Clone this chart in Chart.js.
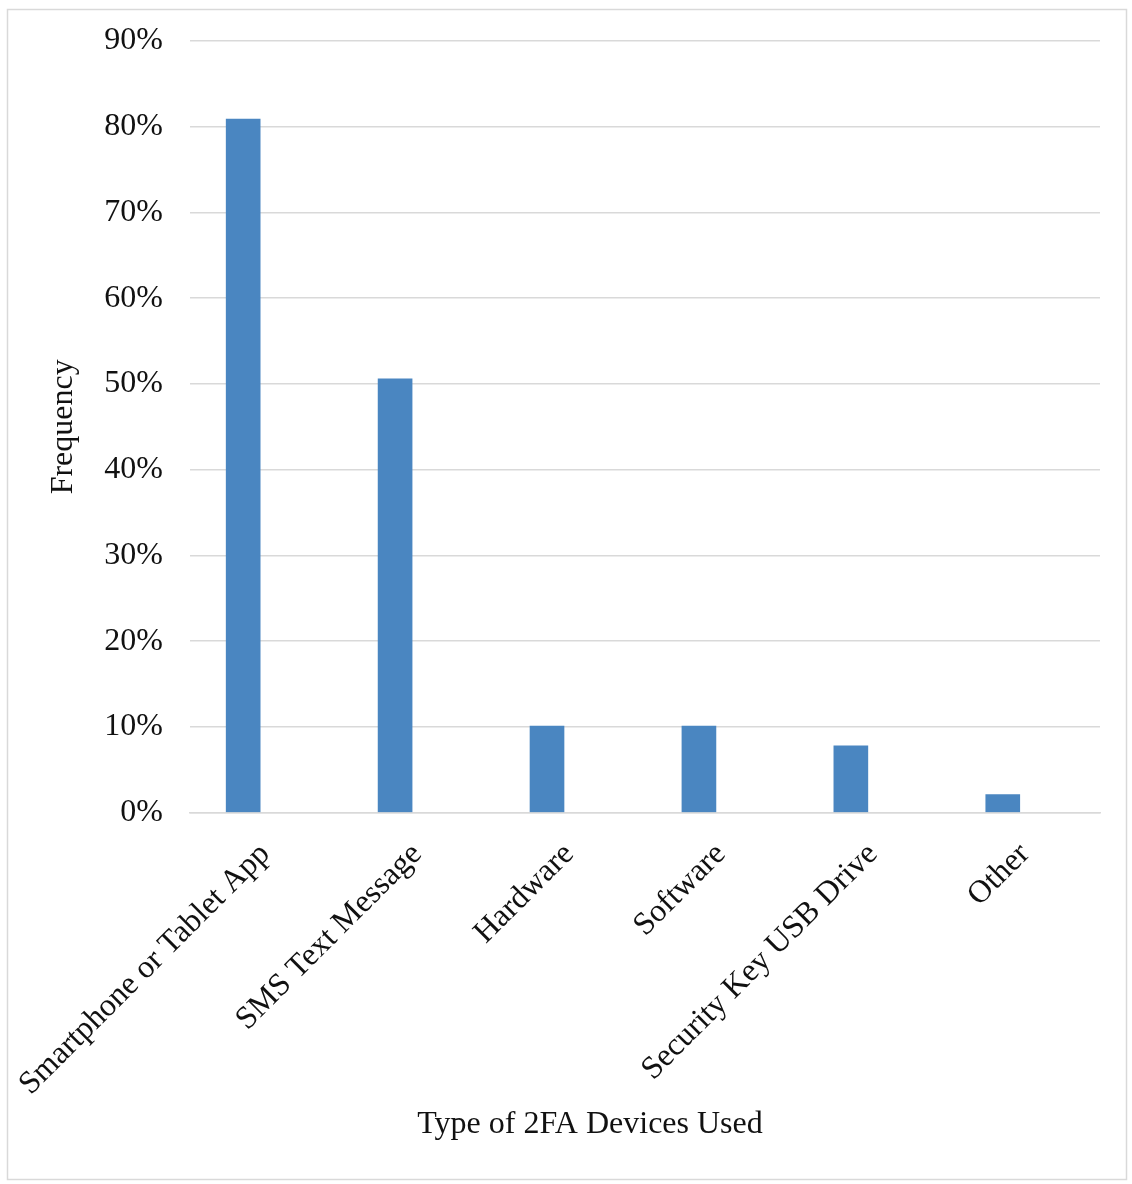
<!DOCTYPE html>
<html>
<head>
<meta charset="utf-8">
<script src="https://cdn.jsdelivr.net/npm/chart.js@4"></script>
<style>
  html, body { margin: 0; padding: 0; background: #fff; }
  #wrap { width: 1132px; height: 1184px; position: relative; }
</style>
</head>
<body>
<div id="wrap"><canvas id="deviceChart"></canvas></div>
<script>
const categories = ['Smartphone or Tablet App', 'SMS Text Message', 'Hardware', 'Software', 'Security Key USB Drive', 'Other'];
const frequency = [80.9, 50.6, 10.1, 10.1, 7.8, 2.1];
const yTicks = [0, 10, 20, 30, 40, 50, 60, 70, 80, 90];

// light grey frame round the whole chart
const frame = {
  id: 'frame',
  beforeDraw(chart) {
    const c = chart.ctx;
    c.save();
    c.fillStyle = '#fff';
    c.fillRect(0, 0, chart.width, chart.height);
    c.strokeStyle = '#d9d9d9';
    c.lineWidth = 1.5;
    c.strokeRect(7.5, 9.5, 1119, 1170);
    c.restore();
  }
};

const serif = { family: 'Liberation Serif', size: 32 };

const ctx = document.getElementById('deviceChart').getContext('2d');

new Chart(ctx, {
  type: 'bar',
  data: {
    datasets: [
      {
        label: 'Frequency',
        // bars sit at index positions on a numeric x axis (the plot has extra room on the right)
        data: frequency.map((v, i) => ({ x: i, y: v })),
        backgroundColor: '#4a86c1',
        barThickness: 34
      }
    ]
  },
  options: {
    responsive: true,
    maintainAspectRatio: false,
    animation: false,
    layout: {
      padding: { top: 41, right: 0, bottom: 0, left: 48 }
    },
    plugins: {
      legend: { display: false },
      tooltip: { enabled: false },
      title: {
        display: true,
        position: 'bottom',
        text: 'Type of 2FA Devices Used',
        color: '#111',
        font: { family: 'Liberation Serif', size: 32, weight: 'normal' },
        padding: { top: 0, bottom: 40 }
      }
    },
    scales: {
      x: {
        type: 'linear',
        offset: false,
        min: -0.35,
        max: 5.64,
        afterBuildTicks(scale) {
          scale.ticks = categories.map((c, i) => ({ value: i }));
        },
        afterFit(scale) {
          scale.height = 293;
          // the slanted first label may run out past the y axis, as in the original
          scale.paddingLeft = 0;
          scale.paddingRight = 0;
        },
        border: { display: true, color: '#d9d9d9', width: 1.5 },
        grid: { display: false, drawTicks: false, offset: false },
        ticks: {
          minRotation: 45,
          maxRotation: 45,
          padding: 23,
          labelOffset: 22,
          autoSkip: false,
          color: '#111',
          font: serif,
          callback: v => categories[v]
        }
      },
      y: {
        min: 0,
        max: 90,
        afterBuildTicks(scale) {
          scale.ticks = yTicks.map(v => ({ value: v }));
        },
        afterFit(scale) {
          scale.width = 142;
          scale.paddingTop = 0;
          scale.paddingBottom = 0;
        },
        border: { display: false },
        grid: {
          color: '#d9d9d9',
          lineWidth: 1.5,
          drawTicks: false
        },
        ticks: {
          padding: 27,
          color: '#111',
          font: serif,
          callback: v => v + '%'
        },
        title: {
          display: true,
          text: 'Frequency',
          color: '#111',
          font: { family: 'Liberation Serif', size: 32, lineHeight: 1 },
          padding: { top: 0, bottom: 0 }
        }
      },
      // empty strip on the right of the plot
      yRight: {
        type: 'linear',
        position: 'right',
        afterFit(scale) {
          scale.width = 32;
          scale.paddingTop = 0;
          scale.paddingBottom = 0;
        },
        border: { display: false },
        grid: { display: false, drawTicks: false },
        ticks: { display: false }
      }
    }
  },
  plugins: [frame]
});
</script>
</body>
</html>
